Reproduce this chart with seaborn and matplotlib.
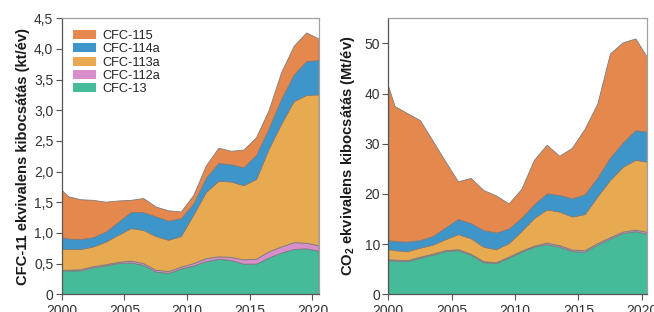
import numpy as np
import pandas as pd
import matplotlib
matplotlib.use("Agg")
import matplotlib.pyplot as plt
import seaborn as sns
from matplotlib.patches import Patch

# ---------------- data ----------------
years = [2000, 2000.5, 2001.5, 2002.5, 2003.5, 2004.5, 2005.5, 2006.5, 2007.5,
         2008.5, 2009.5, 2010.5, 2011.5, 2012.5, 2013.5, 2014.5, 2015.5,
         2016.5, 2017.5, 2018.5, 2019.5, 2020.5]

series_names = ["CFC-13", "CFC-112a", "CFC-113a", "CFC-114a", "CFC-115"]

# CFC-11 equivalent emissions (kt/yr)
cfc11_13 = [0.39, 0.39, 0.39, 0.44, 0.47, 0.51, 0.52, 0.48, 0.37, 0.35, 0.42,
            0.47, 0.54, 0.58, 0.56, 0.50, 0.50, 0.60, 0.68, 0.74, 0.75, 0.71]
cfc11_112a = [0.01, 0.01, 0.02, 0.02, 0.02, 0.02, 0.03, 0.03, 0.03, 0.03, 0.03,
              0.04, 0.05, 0.04, 0.05, 0.07, 0.08, 0.10, 0.10, 0.11, 0.09, 0.09]
cfc11_113a = [0.34, 0.34, 0.33, 0.32, 0.37, 0.44, 0.53, 0.54, 0.55, 0.51, 0.50,
              0.79, 1.08, 1.23, 1.23, 1.21, 1.30, 1.67, 2.00, 2.30, 2.41, 2.46]
cfc11_114a = [0.19, 0.17, 0.16, 0.15, 0.16, 0.21, 0.26, 0.29, 0.32, 0.31, 0.29,
              0.18, 0.23, 0.29, 0.28, 0.29, 0.39, 0.33, 0.40, 0.43, 0.55, 0.56]
cfc11_115 = [0.77, 0.69, 0.65, 0.61, 0.49, 0.35, 0.20, 0.23, 0.16, 0.17, 0.11,
             0.14, 0.20, 0.25, 0.22, 0.29, 0.29, 0.30, 0.44, 0.47, 0.47, 0.35]

# CO2 equivalent emissions (Mt/yr)
co2_13 = [6.8, 6.7, 6.6, 7.3, 7.9, 8.6, 8.8, 7.9, 6.4, 6.2, 7.3,
          8.5, 9.5, 10.0, 9.5, 8.6, 8.5, 9.9, 11.1, 12.2, 12.6, 12.0]
co2_112a = [0.2, 0.2, 0.2, 0.2, 0.2, 0.2, 0.2, 0.2, 0.2, 0.2, 0.2,
            0.2, 0.2, 0.3, 0.3, 0.3, 0.3, 0.3, 0.3, 0.3, 0.3, 0.4]
co2_113a = [2.0, 1.9, 1.8, 1.8, 1.8, 2.2, 3.0, 3.1, 2.9, 2.6, 2.7,
            3.9, 5.5, 6.6, 6.7, 6.6, 7.2, 9.3, 11.4, 12.9, 13.9, 14.0]
co2_114a = [1.8, 1.8, 1.9, 1.5, 1.7, 2.3, 3.0, 3.0, 3.3, 3.3, 2.9,
            2.6, 2.7, 3.2, 3.3, 3.6, 3.9, 3.7, 4.4, 4.8, 5.9, 6.0]
co2_115 = [30.6, 26.9, 25.6, 23.9, 19.0, 13.2, 7.5, 9.0, 8.0, 7.4, 5.0,
           5.8, 8.9, 9.7, 7.8, 10.1, 13.1, 14.8, 20.8, 20.0, 18.3, 14.6]

left_yticks = [0, 0.5, 1.0, 1.5, 2.0, 2.5, 3.0, 3.5, 4.0, 4.5]
left_yticklabels = ["0", "0,5", "1,0", "1,5", "2,0", "2,5", "3,0", "3,5", "4,0", "4,5"]
right_yticks = [0, 10, 20, 30, 40, 50]
xticks = [2000, 2005, 2010, 2015, 2020]

colors = {"CFC-13": "#45BB99", "CFC-112a": "#D98ECC", "CFC-113a": "#E8AA50",
          "CFC-114a": "#3E95C9", "CFC-115": "#E4884E"}

left_df = pd.DataFrame({"year": years, "CFC-13": cfc11_13, "CFC-112a": cfc11_112a,
                        "CFC-113a": cfc11_113a, "CFC-114a": cfc11_114a,
                        "CFC-115": cfc11_115})
right_df = pd.DataFrame({"year": years, "CFC-13": co2_13, "CFC-112a": co2_112a,
                         "CFC-113a": co2_113a, "CFC-114a": co2_114a,
                         "CFC-115": co2_115})

# ---------------- style ----------------
sns.set_theme(style="ticks")
plt.rcParams["font.family"] = ["Liberation Sans", "DejaVu Sans"]
plt.rcParams["mathtext.fontset"] = "custom"
plt.rcParams["mathtext.rm"] = "Liberation Sans"
plt.rcParams["mathtext.bf"] = "Liberation Sans:bold"

fig = plt.figure(figsize=(6.54, 3.12), dpi=100)
axL = fig.add_axes([61.7 / 654, 17.7 / 312, 257.6 / 654, 276.0 / 312])
axR = fig.add_axes([388.3 / 654, 17.7 / 312, 258.4 / 654, 276.0 / 312])

pal = [colors[n] for n in series_names]


def draw(ax, df, ylim, xmax):
    ax.stackplot(df["year"], *[df[n] for n in series_names], colors=pal,
                 edgecolor="#7d7d7d", linewidth=0.6)
    ax.set_xlim(2000, xmax)
    ax.set_ylim(*ylim)
    ax.set_xticks(xticks)
    ax.set_xticklabels([str(t) for t in xticks])
    for s in ax.spines.values():
        s.set_color("#a0a0a0")
        s.set_linewidth(0.9)
    ax.spines["left"].set_color("#555555")
    ax.spines["bottom"].set_color("#555555")
    ax.tick_params(axis="both", direction="out", length=4, width=0.8,
                   color="#555555", labelsize=10, labelcolor="#333333", pad=2)
    ax.tick_params(axis="x", pad=3)


draw(axL, left_df, (0, 4.5), 2020.55)
axL.set_yticks(left_yticks)
axL.set_yticklabels(left_yticklabels)
axL.set_ylabel("CFC-11 ekvivalens kibocsátás (kt/év)", fontsize=10.6,
               fontweight="bold", color="#1a1a1a", labelpad=3)

draw(axR, right_df, (0, 55), 2020.4)
axR.set_yticks(right_yticks)
axR.set_ylabel(r"CO$_\mathbf{2}$ ekvivalens kibocsátás (Mt/év)", fontsize=10.6,
               fontweight="bold", color="#1a1a1a", labelpad=5)

handles = [Patch(facecolor=colors[n], edgecolor="none") for n in reversed(series_names)]
leg = axL.legend(handles, list(reversed(series_names)), loc="upper left",
                 bbox_to_anchor=(0.01, 0.99), frameon=False, fontsize=9.2,
                 handlelength=1.8, handleheight=0.7, handletextpad=0.45,
                 labelspacing=0.1, borderaxespad=0.3)
for t in leg.get_texts():
    t.set_color("#222222")

fig.savefig("out.png", dpi=100)
